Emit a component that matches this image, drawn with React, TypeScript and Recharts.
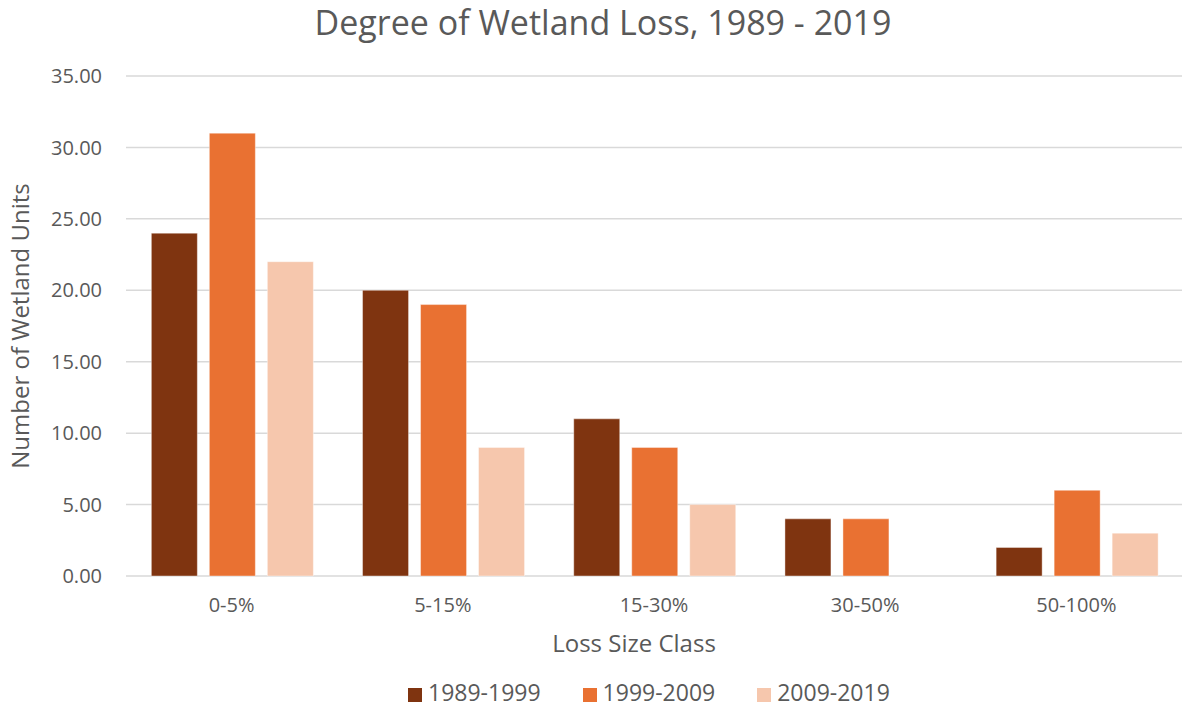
import { BarChart, Bar, XAxis, YAxis, CartesianGrid, Legend, Label } from "recharts";

const CATEGORIES = ["0-5%", "5-15%", "15-30%", "30-50%", "50-100%"];
const S1989 = [24, 20, 11, 4, 2];
const S1999 = [31, 19, 9, 4, 6];
const S2009 = [22, 9, 5, 0, 3];
const Y_TICKS = [0, 5, 10, 15, 20, 25, 30, 35];

const SERIES = [
  { key: "1989-1999", color: "#7F3410" },
  { key: "1999-2009", color: "#E97132" },
  { key: "2009-2019", color: "#F6C7AD" },
];

const data = CATEGORIES.map((name, i) => ({
  name,
  "1989-1999": S1989[i],
  "1999-2009": S1999[i],
  "2009-2019": S2009[i],
}));

const FONT = "'Open Sans', Arial, sans-serif";
const TEXT = "#595959";

const App = () => {
  return <div style={{ position: "relative", width: 1182, height: 708, fontFamily: FONT, background: "#fff" }}>
      <style>{`body{margin:0} .recharts-legend-item{margin-right:42px !important} .recharts-legend-item:last-child{margin-right:0 !important} .recharts-legend-item svg{margin-right:6px !important}`}</style>
      <div style={{
      position: "absolute",
      top: -1,
      left: 603,
      transform: "translateX(-50%)",
      whiteSpace: "nowrap",
      fontSize: 34,
      color: TEXT
    }}>Degree of Wetland Loss, 1989 - 2019</div>
      <BarChart width={1182} height={708} data={data} margin={{
      top: 76,
      right: 0,
      left: 0,
      bottom: 0
    }} barCategoryGap="12%" barGap={12}>
        <CartesianGrid vertical={false} stroke="#D9D9D9" strokeWidth={1.5} />
        <XAxis dataKey="name" height={100} axisLine={false} tickLine={false} tickSize={0} tickMargin={22} tick={{
        fill: TEXT,
        fontSize: 20
      }}>
          <Label content={() => <text x={634} y={652} textAnchor="middle" fill={TEXT} fontSize={24}>Loss Size Class</text>} />
        </XAxis>
        <YAxis width={126} domain={[0, 35]} ticks={Y_TICKS} axisLine={false} tickLine={false} tickSize={0} tickMargin={24} tickFormatter={(v: number) => v.toFixed(2)} tick={{
        fill: TEXT,
        fontSize: 20
      }}>
          <Label content={() => <text x={0} y={0} transform="translate(29,326) rotate(-90)" textAnchor="middle" fill={TEXT} fontSize={24}>Number of Wetland Units</text>} />
        </YAxis>
        <Legend verticalAlign="bottom" iconType="square" iconSize={14} wrapperStyle={{
        fontSize: 23,
        color: TEXT,
        left: 408,
        width: "auto"
      }} formatter={(value: string) => <span style={{ color: TEXT }}>{value}</span>} />
        {SERIES.map(s => <Bar key={s.key} dataKey={s.key} fill={s.color} stroke="#ffffff" strokeOpacity={0.4} strokeWidth={1} isAnimationActive={false} />)}
      </BarChart>
    </div>;
};

export default App;
